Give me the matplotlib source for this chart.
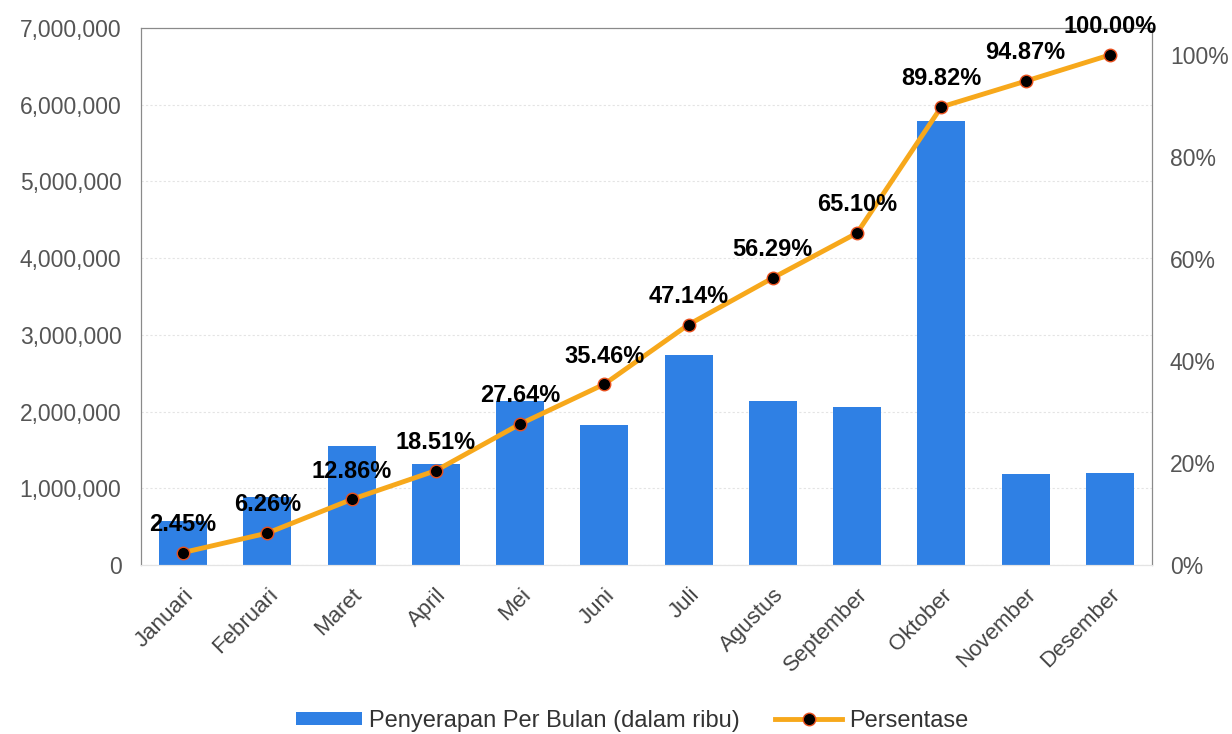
import matplotlib
matplotlib.use('Agg')
import matplotlib.pyplot as plt
from matplotlib.ticker import FuncFormatter, MultipleLocator
from matplotlib.lines import Line2D
from matplotlib.patches import Patch

plt.rcParams['font.family'] = ['Liberation Sans', 'DejaVu Sans']

# data
bulan = ['Januari', 'Februari', 'Maret', 'April', 'Mei', 'Juni', 'Juli',
         'Agustus', 'September', 'Oktober', 'November', 'Desember']
penyerapan = [573000, 891000, 1545000, 1322000, 2136000, 1830000, 2733000,
              2141000, 2062000, 5784000, 1182000, 1200000]
persentase = [2.45, 6.26, 12.86, 18.51, 27.64, 35.46, 47.14, 56.29, 65.10,
              89.82, 94.87, 100.00]

bar_color = '#2F80E4'
line_color = '#F7A81B'

fig = plt.figure(figsize=(12.32, 7.34), dpi=100)
ax = fig.add_axes([0.1144, 0.2302, 0.8206, 0.7317])
x = list(range(len(bulan)))

ax.bar(x, penyerapan, width=0.57, color=bar_color, zorder=2)
ax.set_xlim(-0.5, len(bulan) - 0.5)
ax.set_ylim(0, 7000000)
ax.yaxis.set_major_locator(MultipleLocator(1000000))
ax.yaxis.set_major_formatter(FuncFormatter(lambda v, p: '{:,.0f}'.format(v)))
ax.grid(axis='y', color='#e4e4e4', linestyle=(0, (2, 2)), linewidth=0.8, zorder=0)
ax.set_xticks(x)
ax.set_xticklabels(bulan, rotation=45, ha='right', rotation_mode='anchor',
                   fontsize=16, color='#444444')
ax.tick_params(axis='x', length=0, pad=14)
ax.tick_params(axis='y', length=0, pad=14, labelsize=16.5, labelcolor='#555555')

# right axis for cumulative percentage
ax2 = ax.twinx()
ax2.plot(x, persentase, color=line_color, linewidth=3.5, marker='o',
         markersize=9, markerfacecolor='black', markeredgecolor='#E8501E',
         markeredgewidth=1, zorder=3)
ax2.set_ylim(0, 105.3)
ax2.set_yticks([0, 20, 40, 60, 80, 100])
ax2.yaxis.set_major_formatter(FuncFormatter(lambda v, p: '%d%%' % v))
ax2.tick_params(axis='y', length=0, pad=13, labelsize=16.5, labelcolor='#555555')

for xi, p in zip(x, persentase):
    ax2.annotate('%.2f%%' % p, (xi, p), xytext=(0, 12), textcoords='offset points',
                 ha='center', va='bottom', fontsize=17, fontweight='bold',
                 color='black', zorder=4)

for a in (ax, ax2):
    a.spines['top'].set_color('#8a8a8a')
    a.spines['left'].set_color('#8a8a8a')
    a.spines['right'].set_color('#8a8a8a')
    a.spines['bottom'].set_color('#e4e4e4')

handles = [Patch(facecolor=bar_color, label='Penyerapan Per Bulan (dalam ribu)'),
           Line2D([0], [0], color=line_color, linewidth=3.5, marker='o',
                  markersize=9, markerfacecolor='black',
                  markeredgecolor='#E8501E', label='Persentase')]
fig.legend(handles=handles, loc='center', bbox_to_anchor=(0.513, 0.018), ncol=2,
           frameon=False, fontsize=17, handlelength=2.8, columnspacing=1.5,
           handletextpad=0.3, handleheight=0.45, labelcolor='#333333')

fig.savefig('out.png', dpi=100)
